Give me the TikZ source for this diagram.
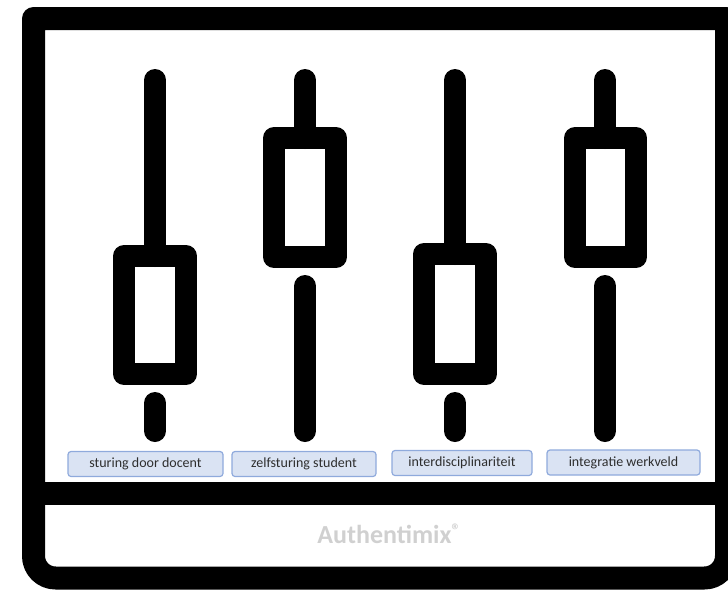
\documentclass[tikz,border=0pt]{standalone}
\usepackage{fontspec}
\setmainfont{Carlito}
\usepackage{xcolor}
\usepackage{tikz}
\definecolor{tagfill}{HTML}{DAE3F3}
\definecolor{tagline}{HTML}{8FAADC}
\definecolor{tagtext}{HTML}{2E2E2E}
\definecolor{logogray}{HTML}{D0D0D0}
\newcommand{\corA}{black}
\newcommand{\corB}{tagfill}
\newcommand{\corC}{tagline}
\newcommand{\corD}{tagtext}
\newcommand{\corE}{logogray}
\tikzset{
  framestyle/.style={draw=\corA, line width=23pt, line join=round},
  sliderstyle/.style={draw=\corA, line width=22pt, line cap=round, line join=round},
  tagstyle/.style={draw=\corC, fill=\corB, line width=1.2pt, rounded corners=3pt,
    text=\corD, font=\fontsize{14}{15}\selectfont, minimum height=25pt, inner sep=0pt}
}

\begin{document}
\begin{tikzpicture}[x=1pt, y=-1pt]
        \useasboundingbox (0,0) rectangle (728,590);
          % frame
        \draw[framestyle] (33.5,300) -- (33.5,18.5) -- (726.5,18.5) -- (726.5,300)
          {[rounded corners=22pt] -- (726.5,578) -- (33.5,578) -- (33.5,300)} -- cycle;
        \draw[framestyle] (33.5,493.5) -- (726.5,493.5);

          % slider 1 (knop laag)
        \draw[sliderstyle] (155,80) -- (155,256);
        \draw[sliderstyle, line cap=butt] (124,256) rectangle (186,374);
        \draw[sliderstyle] (155,403) -- (155,431);

          % slider 2 (knop hoog)
        \draw[sliderstyle] (305,80) -- (305,138);
        \draw[sliderstyle, line cap=butt] (274,138) rectangle (336,257);
        \draw[sliderstyle] (305,286) -- (305,431);

          % slider 3 (knop laag)
        \draw[sliderstyle] (455,80) -- (455,254);
        \draw[sliderstyle, line cap=butt] (424,254) rectangle (486,374);
        \draw[sliderstyle] (455,403) -- (455,431);

          % slider 4 (knop hoog)
        \draw[sliderstyle] (605,80) -- (605,138);
        \draw[sliderstyle, line cap=butt] (575,138) rectangle (636,257);
        \draw[sliderstyle] (605,286) -- (605,431);

          % labels
        \node[tagstyle, minimum width=155pt] (tag1) at (145.5,464) {sturing door docent};
        \node[tagstyle, minimum width=144pt] (tag2) at (304,464) {zelfsturing student};
        \node[tagstyle, minimum width=140pt] (tag3) at (462,463) {interdisciplinariteit};
        \node[tagstyle, minimum width=153pt] (tag4) at (623.5,462.5) {integratie werkveld};

          % logo
        \node[text=\corE, font=\bfseries\fontsize{26}{28}\selectfont] (logo) at (389,534)
          {Authentimix\raisebox{7pt}{\fontsize{18}{18}\selectfont ®}};
    \end{tikzpicture}
\end{document}
